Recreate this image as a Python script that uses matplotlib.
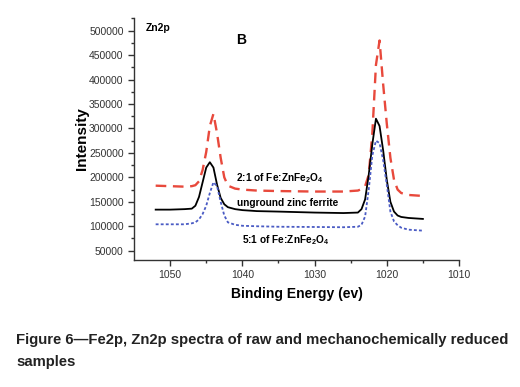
import matplotlib.pyplot as plt
import numpy as np

plt.rcParams['font.family'] = ['Liberation Sans', 'DejaVu Sans']
plt.rcParams['mathtext.fontset'] = 'custom'
plt.rcParams['mathtext.rm'] = 'Liberation Sans:bold'
plt.rcParams['mathtext.bf'] = 'Liberation Sans:bold'
plt.rcParams['mathtext.default'] = 'bf'

# binding energy grid (eV) and intensities
energy = [1052, 1050, 1048, 1047, 1046.5, 1046, 1045.5, 1045, 1044.5, 1044,
          1043.5, 1043, 1042.5, 1042, 1041, 1040, 1038, 1035, 1030, 1026,
          1024, 1023.5, 1023, 1022.5, 1022, 1021.5, 1021, 1020.5, 1020,
          1019.5, 1019, 1018.5, 1018, 1017, 1015]

ratio_2to1 = [183000, 182000, 181000, 182000, 184000, 192000, 215000, 252000, 305000, 330000,
              290000, 240000, 200000, 183000, 177000, 175000, 173000, 172000, 171000, 171000,
              173000, 176000, 182000, 205000, 290000, 430000, 480000, 390000, 310000,
              240000, 195000, 175000, 168000, 164000, 162000]

unground = [134000, 134000, 135000, 136000, 142000, 160000, 190000, 220000, 231000, 220000,
            185000, 158000, 145000, 139000, 135000, 133000, 131000, 130000, 128000, 127000,
            128000, 135000, 155000, 205000, 268000, 320000, 305000, 255000, 195000,
            150000, 130000, 122000, 119000, 117000, 115000]

ratio_5to1 = [104000, 104000, 104000, 106000, 108000, 114000, 125000, 142000, 168000, 190000,
              182000, 150000, 122000, 108000, 103000, 101000, 100000, 99000, 98500, 98000,
              99000, 103000, 120000, 175000, 245000, 275000, 270000, 235000, 185000,
              130000, 110000, 102000, 97000, 93000, 91000]

fig = plt.figure(figsize=(5.2, 3.87), dpi=100)
ax = fig.add_axes([0.2577, 0.3282, 0.625, 0.6253])

ax.plot(energy, ratio_2to1, color='#e8493c', lw=1.7, dashes=(4.5, 2.8))
ax.plot(energy, unground, color='black', lw=1.3)
ax.plot(energy, ratio_5to1, color='#4a5bc4', lw=1.3, dashes=(1.6, 1.2))

ax.set_xlim(1055, 1010)
ax.set_ylim(31000, 526000)
ax.set_xticks([1050, 1040, 1030, 1020, 1010])
ax.set_xticks(np.arange(1015, 1055, 10), minor=True)
ax.set_yticks(np.arange(50000, 500001, 50000))
ax.set_yticks(np.arange(75000, 526000, 50000), minor=True)
ax.spines['top'].set_visible(False)
ax.spines['right'].set_visible(False)
for s in ['left', 'bottom']:
    ax.spines[s].set_linewidth(1.0)
    ax.spines[s].set_color('#333333')
ax.tick_params(which='major', direction='out', length=4, width=1, labelsize=7.5,
               colors='#333333', labelcolor='#333333')
ax.tick_params(which='minor', direction='out', length=2, width=1, colors='#333333')

ax.set_xlabel('Binding Energy (ev)', fontsize=10, fontweight='bold', labelpad=5)
ax.set_ylabel('Intensity', fontsize=11, fontweight='bold', labelpad=0)

ax.text(0.036, 0.96, 'Zn2p', transform=ax.transAxes, fontsize=7.5, fontweight='bold', va='center')
ax.text(0.315, 0.91, 'B', transform=ax.transAxes, fontsize=10, fontweight='bold', va='center')
ax.text(1040.9, 199000, '2:1 of Fe:ZnFe$_2$O$_4$', fontsize=7.3, fontweight='bold', va='center')
ax.text(1040.8, 148000, 'unground zinc ferrite', fontsize=7.3, fontweight='bold', va='center')
ax.text(1040.1, 72000, '5:1 of Fe:ZnFe$_2$O$_4$', fontsize=7.3, fontweight='bold', va='center')

fig.text(0.031, 1 - 340 / 387, 'Figure 6\u2014Fe2p, Zn2p spectra of raw and mechanochemically reduced',
         fontsize=10.7, fontweight='bold', color='#222222', va='center')
fig.text(0.031, 1 - 362 / 387, 'samples', fontsize=10.7, fontweight='bold', color='#222222', va='center')

fig.savefig('out.png', dpi=100)
